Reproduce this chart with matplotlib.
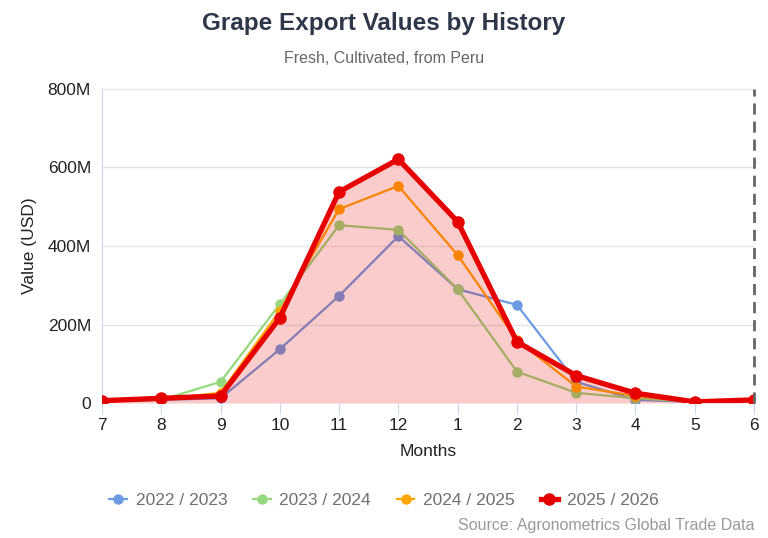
import matplotlib.pyplot as plt
from matplotlib.ticker import FuncFormatter

plt.rcParams['font.family'] = ['Liberation Sans', 'DejaVu Sans']

months = ['7', '8', '9', '10', '11', '12', '1', '2', '3', '4', '5', '6']
s2022 = [5, 8, 12, 137, 273, 425, 290, 250, 54, 8, 3, 5]
s2023 = [5, 8, 54, 252, 453, 441, 290, 80, 26, 12, 3, 5]
s2024 = [5, 10, 26, 235, 494, 553, 377, 160, 42, 18, 3, 5]
s2025 = [6, 12, 18, 217, 538, 621, 462, 156, 70, 25, 3, 8]

x = list(range(len(months)))

fig = plt.figure(figsize=(7.68, 5.38), dpi=100)
ax = fig.add_axes([0.1328, 0.2509, 0.849, 0.5837])

ax.plot(x, s2022, color='#6c9be2', lw=1.6, marker='o', ms=6.5, zorder=3, label='2022 / 2023')
ax.plot(x, s2023, color='#95d87e', lw=1.6, marker='o', ms=6.5, zorder=3, label='2023 / 2024')
ax.plot(x, s2024, color='#ffa500', lw=1.6, marker='o', ms=6.5, zorder=3, label='2024 / 2025')
ax.fill_between(x, 0, s2025, color='#e60000', alpha=0.2, lw=0, zorder=4)
ax.plot(x, s2025, color='#e60000', lw=3.8, marker='o', ms=8, zorder=5, label='2025 / 2026')

ax.axvline(11, color='#666666', lw=2, ls=(0, (4, 2.5)), zorder=6, clip_on=False)

ax.set_xlim(0, 11)
ax.set_ylim(0, 800)
ax.set_xticks(x)
ax.set_xticklabels(months)
ax.set_yticks([0, 200, 400, 600, 800])
ax.yaxis.set_major_formatter(FuncFormatter(lambda v, p: '0' if v == 0 else f'{int(v)}M'))
ax.grid(axis='y', color='#e6e6e6', lw=1, zorder=0)
ax.set_axisbelow(True)

for side in ['top', 'right', 'bottom']:
    ax.spines[side].set_visible(False)
ax.spines['left'].set_color('#ccd6eb')
ax.tick_params(axis='y', length=0, labelsize=12.5, colors='#222222', pad=8)
ax.tick_params(axis='x', length=8, color='#ccd6eb', labelsize=12.5, labelcolor='#222222', pad=3)

ax.set_ylabel('Value (USD)', fontsize=12.5, color='#222222', labelpad=8)
ax.set_xlabel('Months', fontsize=12.5, color='#222222', labelpad=8)

fig.text(0.5, 0.956, 'Grape Export Values by History', ha='center', va='center',
         fontsize=17.5, fontweight='bold', color='#2d3748')
fig.text(0.5, 0.892, 'Fresh, Cultivated, from Peru', ha='center', va='center',
         fontsize=11.5, color='#666666')

leg = fig.legend(loc='center', bbox_to_anchor=(0.5, 0.07), ncol=4, frameon=False,
                 fontsize=12.5, handlelength=1.0, handletextpad=0.5, columnspacing=1.5)
for t in leg.get_texts():
    t.set_color('#707070')

fig.text(0.982, 0.024, 'Source: Agronometrics Global Trade Data', ha='right', va='center',
         fontsize=11.5, color='#999999')

fig.savefig('out.png', dpi=100)
